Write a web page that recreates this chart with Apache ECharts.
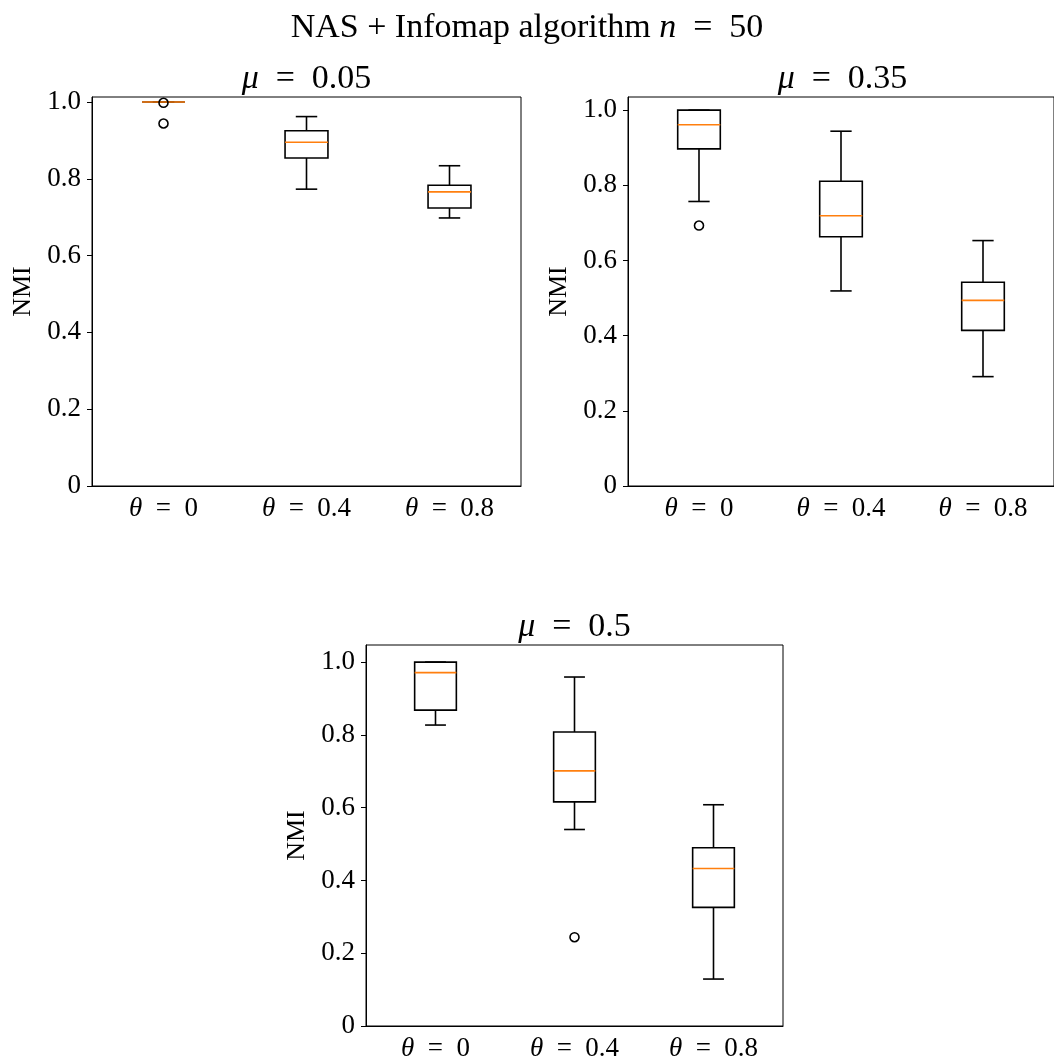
<!DOCTYPE html>
<html>
<head>
<meta charset="utf-8">
<script src="https://cdn.jsdelivr.net/npm/echarts@6/dist/echarts.min.js"></script>
<style>
  html, body { margin: 0; padding: 0; background: #fff; }
  #chart { width: 1054px; height: 1062px; }
</style>
</head>
<body>
<div id="chart"></div>
<script>
// Mixing parameter values (x categories) and the NMI tick positions
const thetaValues = ['0', '0.4', '0.8'];
const nmiTicks = [0, 0.2, 0.4, 0.6, 0.8, 1.0];

// Box statistics per theta: [lower whisker, Q1, median, Q3, upper whisker]
const boxesMu005 = [
  [1.0, 1.0, 1.0, 1.0, 1.0],
  [0.773, 0.854, 0.895, 0.925, 0.962],
  [0.698, 0.724, 0.766, 0.783, 0.834]
];
const boxesMu035 = [
  [0.757, 0.897, 0.961, 1.0, 1.0],
  [0.519, 0.663, 0.719, 0.811, 0.944],
  [0.291, 0.414, 0.494, 0.542, 0.653]
];
const boxesMu05 = [
  [0.827, 0.868, 0.971, 1.0, 1.0],
  [0.540, 0.616, 0.701, 0.808, 0.959],
  [0.129, 0.326, 0.433, 0.490, 0.608]
];

// Fliers: [theta index, NMI]
const outliersMu005 = [[0, 0.998], [0, 0.944]];
const outliersMu035 = [[0, 0.693]];
const outliersMu05 = [[1, 0.244]];

const panelTitles = ['0.05', '0.35', '0.5'];

const SERIF = '"Liberation Serif", "DejaVu Serif", serif';
const TICK_SIZE = 27;
const TITLE_SIZE = 34;
const EQ = '\u2002=\u2002';  // relation sign with wide math spacing

// Plot area rectangles and upper y limits of the three panels
const panels = [
  { left: 92, top: 97, width: 429, height: 389, ymax: 1.013, boxes: boxesMu005, fliers: outliersMu005 },
  { left: 628, top: 97, width: 429, height: 389, ymax: 1.035, boxes: boxesMu035, fliers: outliersMu035 },
  { left: 366, top: 645, width: 417, height: 382, ymax: 1.047, boxes: boxesMu05, fliers: outliersMu05 }
];

// Rich text style for italic math letters
function mathRich(size) {
  return {
    i: { fontFamily: SERIF, fontStyle: 'italic', fontSize: size, color: '#000', fill: '#000' }
  };
}

function renderBox(params, api) {
  const idx = api.value(0);
  const lo = api.coord([idx, api.value(1)]);
  const q1 = api.coord([idx, api.value(2)]);
  const med = api.coord([idx, api.value(3)]);
  const q3 = api.coord([idx, api.value(4)]);
  const hi = api.coord([idx, api.value(5)]);
  const band = api.size([1, 0])[0];
  const bw = band * 0.3;
  const cw = bw / 2;
  const cx = q1[0];
  const black = { stroke: '#000', lineWidth: 1.6, fill: null };
  return {
    type: 'group',
    children: [
      { type: 'line', shape: { x1: cx, y1: q1[1], x2: cx, y2: lo[1] }, style: black },
      { type: 'line', shape: { x1: cx, y1: q3[1], x2: cx, y2: hi[1] }, style: black },
      { type: 'line', shape: { x1: cx - cw / 2, y1: lo[1], x2: cx + cw / 2, y2: lo[1] }, style: black },
      { type: 'line', shape: { x1: cx - cw / 2, y1: hi[1], x2: cx + cw / 2, y2: hi[1] }, style: black },
      { type: 'rect', shape: { x: cx - bw / 2, y: q3[1], width: bw, height: q1[1] - q3[1] }, style: black },
      { type: 'line', shape: { x1: cx - bw / 2, y1: med[1], x2: cx + bw / 2, y2: med[1] },
        style: { stroke: '#ff7f0e', lineWidth: 1.6 } }
    ]
  };
}

const grid = [], xAxis = [], yAxis = [], series = [], graphic = [];

panels.forEach((p, k) => {
  grid.push({
    left: p.left, top: p.top, width: p.width, height: p.height,
    show: true, borderColor: '#000', borderWidth: 1, backgroundColor: 'transparent'
  });
  xAxis.push({
    type: 'category', gridIndex: k, data: thetaValues, boundaryGap: true,
    axisLine: { lineStyle: { color: '#000', width: 1 } },
    axisTick: { alignWithLabel: true, length: 5, lineStyle: { color: '#000' } },
    axisLabel: {
      interval: 0, hideOverlap: false,
      margin: 9, color: '#000', fontFamily: SERIF, fontSize: TICK_SIZE,
      formatter: v => '{i|θ}' + EQ + v, rich: mathRich(TICK_SIZE)
    },
    splitLine: { show: false }
  });
  yAxis.push({
    type: 'value', gridIndex: k, min: 0, max: p.ymax,
    name: 'NMI', nameLocation: 'middle', nameGap: 56, nameRotate: 90,
    nameTextStyle: { fontFamily: SERIF, fontSize: 26, color: '#000' },
    axisLine: { show: true, lineStyle: { color: '#000', width: 1 } },
    axisTick: { show: true, length: 5, customValues: nmiTicks, lineStyle: { color: '#000' } },
    axisLabel: {
      margin: 11, color: '#000', fontFamily: SERIF, fontSize: TICK_SIZE,
      customValues: nmiTicks,
      formatter: v => (v === 0 ? '0' : v.toFixed(1))
    },
    splitLine: { show: false }
  });
  series.push({
    type: 'custom', xAxisIndex: k, yAxisIndex: k,
    renderItem: renderBox,
    encode: { x: 0, y: [1, 2, 3, 4, 5] },
    data: p.boxes.map((b, i) => [i].concat(b)),
    z: 2
  });
  series.push({
    type: 'scatter', xAxisIndex: k, yAxisIndex: k,
    symbol: 'circle', symbolSize: 9,
    itemStyle: { color: 'rgba(0,0,0,0)', borderColor: '#000', borderWidth: 1.6, opacity: 1 },
    data: p.fliers,
    z: 3
  });
  graphic.push({
    type: 'text', x: p.left + p.width / 2, y: p.top - 18,
    style: {
      text: '{i|μ}' + EQ + panelTitles[k],
      fontFamily: SERIF, fontSize: TITLE_SIZE, fill: '#000',
      align: 'center', verticalAlign: 'middle',
      rich: mathRich(TITLE_SIZE)
    }
  });
});

graphic.push({
  type: 'text', x: 527, y: 28,
  style: {
    text: 'NAS + Infomap algorithm {i|n}' + EQ + '50',
    fontFamily: SERIF, fontSize: TITLE_SIZE, fill: '#000',
    align: 'center', verticalAlign: 'middle',
    rich: mathRich(TITLE_SIZE)
  }
});

const chart = echarts.init(document.getElementById('chart'), null, { renderer: 'canvas' });
chart.setOption({
  animation: false,
  backgroundColor: '#fff',
  grid, xAxis, yAxis, series, graphic
});
</script>
</body>
</html>
